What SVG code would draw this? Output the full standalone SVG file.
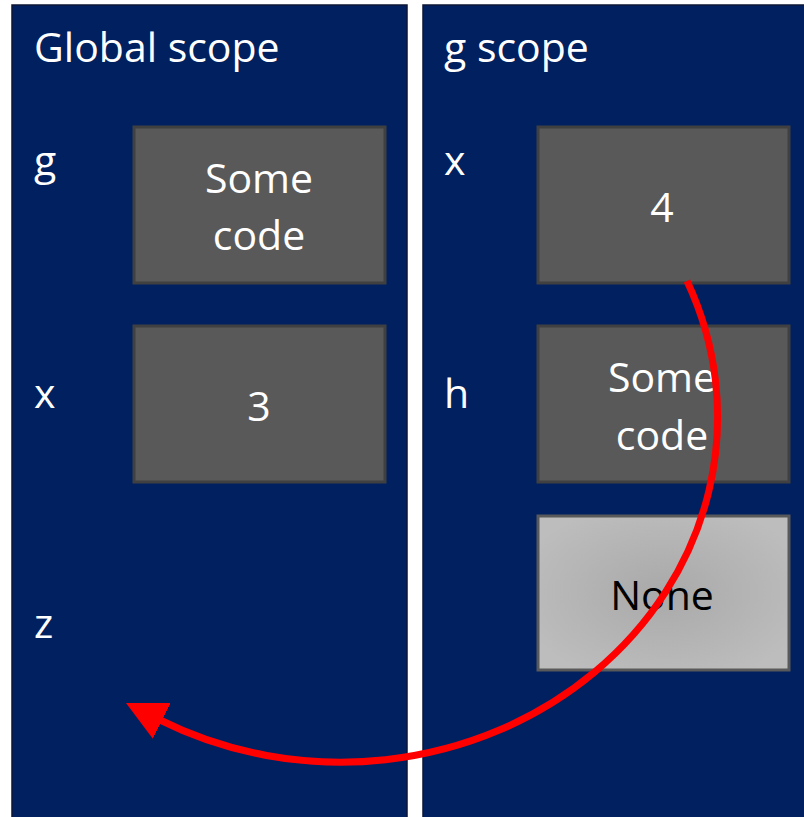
<svg xmlns="http://www.w3.org/2000/svg" width="804" height="817" viewBox="0 0 804 817">
  <style>
    .panel { fill: #002060; stroke: #0b1636; stroke-width: 1.5; }
    .cell { fill: #595959; stroke: #404040; stroke-width: 3; }
    .none { fill: url(#noneFill); stroke: #595959; stroke-width: 3; }
    text { font-family: "Open Sans", "Noto Sans", sans-serif; font-size: 41px; fill: #ffffff; }
    .mid { text-anchor: middle; }
    .dark { fill: #000000; }
    .link { fill: none; stroke: #ff0000; stroke-width: 7; }
  </style>
  <defs>
    <radialGradient id="noneFill" cx="50%" cy="50%" r="60%">
      <stop offset="0" stop-color="#a9a9a9"/>
      <stop offset="1" stop-color="#bdbdbd"/>
    </radialGradient>
    <marker id="head" markerUnits="userSpaceOnUse" viewBox="0 0 40 40" markerWidth="40" markerHeight="40" refX="2" refY="20" orient="auto">
      <path d="M0,0 L40,20 L0,40 Z" fill="#ff0000"/>
    </marker>
  </defs>

  <rect width="804" height="817" fill="#ffffff"/>

  <!-- Global scope frame -->
  <g id="global-scope">
    <rect class="panel" x="12" y="5" width="395" height="820"/>
    <text x="34" y="62">Global scope</text>
    <text x="34" y="175">g</text>
    <text x="34" y="408">x</text>
    <text x="34" y="638">z</text>
  </g>

  <g id="global-g">
    <rect class="cell" x="134" y="127" width="251" height="156"/>
    <text class="mid" x="259" y="193">Some</text>
    <text class="mid" x="259" y="250">code</text>
  </g>

  <g id="global-x">
    <rect class="cell" x="134" y="326" width="251" height="156"/>
    <text class="mid" x="259" y="421">3</text>
  </g>

  <!-- g scope frame -->
  <g id="g-scope">
    <rect class="panel" x="423" y="5" width="395" height="820"/>
    <text x="444" y="62">g scope</text>
    <text x="444" y="175">x</text>
    <text x="444" y="408">h</text>
  </g>

  <g id="g-x">
    <rect class="cell" x="538" y="127" width="251" height="156"/>
    <text class="mid" x="662" y="222">4</text>
  </g>

  <g id="g-h">
    <rect class="cell" x="538" y="326" width="251" height="156"/>
    <text class="mid" x="662" y="392">Some</text>
    <text class="mid" x="662" y="450">code</text>
  </g>

  <g id="g-none">
    <rect class="none" x="538" y="516" width="251" height="154"/>
    <text class="mid dark" x="662" y="610">None</text>
  </g>

  <!-- lookup connector -->
  <g id="connectors">
    <path class="link" d="M687,281 A377,345 0 0 1 160,720" marker-end="url(#head)"/>
  </g>
</svg>
